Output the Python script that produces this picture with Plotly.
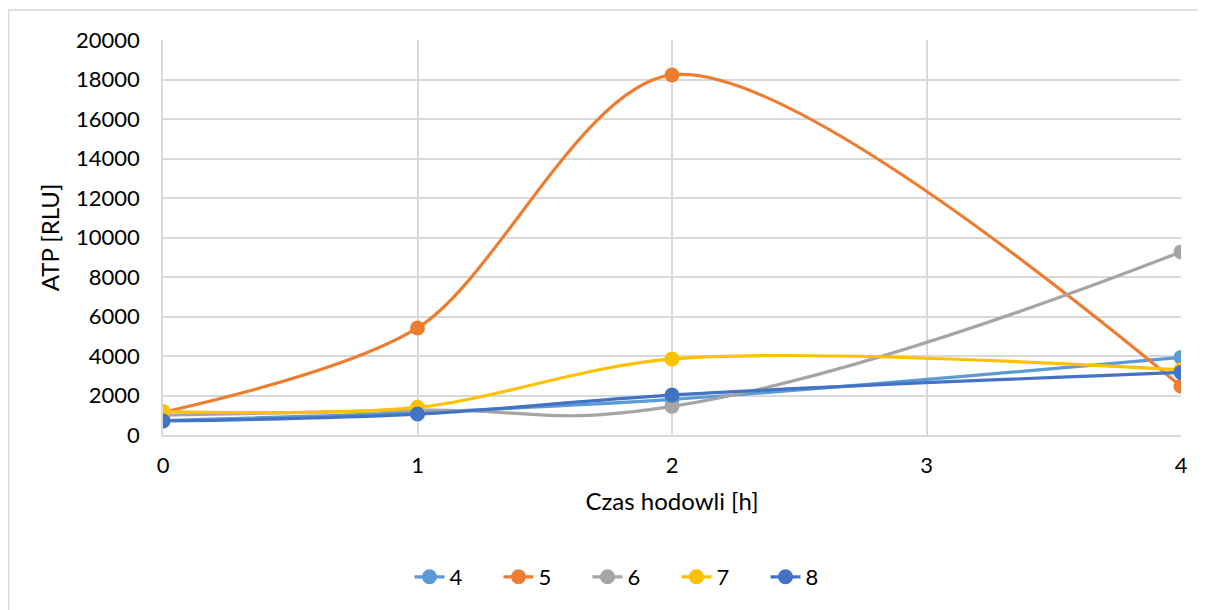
import plotly.graph_objects as go

x_hours = [0, 1, 2, 4]
series_names = ["4", "5", "6", "7", "8"]
s4 = [730, 1150, 1800, 3930]
s5 = [1150, 5420, 18230, 2470]
s6 = [1000, 1260, 1450, 9270]
s7 = [1190, 1400, 3850, 3300]
s8 = [710, 1060, 2020, 3170]
colors = ["#5B9BD5", "#ED7D31", "#A5A5A5", "#FFC000", "#4472C4"]
smooth = [1.0, 0.85, 1.3, 0.9, 1.0]
y_ticks = list(range(0, 20001, 2000))
x_ticks = [0, 1, 2, 3, 4]

FONT = "Lato, Carlito, 'Liberation Sans', sans-serif"

fig = go.Figure()
for name, vals, col, sm in zip(series_names, [s4, s5, s6, s7, s8], colors, smooth):
    fig.add_trace(go.Scatter(
        x=x_hours, y=vals, name=name, mode="lines+markers",
        line=dict(color=col, width=3.2, shape="spline", smoothing=sm),
        marker=dict(color=col, size=15),
    ))

# page has an 8px body margin; work in figure coordinates (page - 8)
OFF = 8
W, H = 1206 - OFF, 610 - OFF
L, R, T, B = 163 - OFF, 1181 - OFF, 40 - OFF, 435 - OFF
pw, ph = R - L, B - T

def px(xp):
    return (xp - OFF - L) / pw

def py(yp):
    return (B - (yp - OFF)) / ph

fig.update_layout(
    width=W, height=H,
    margin=dict(l=L, r=W - R, t=T, b=H - B),
    paper_bgcolor="white", plot_bgcolor="white",
    font=dict(family=FONT, size=22, color="#000000"),
    showlegend=True,
    legend=dict(orientation="h", x=px(632), xanchor="center", y=py(577), yanchor="middle",
                font=dict(size=22), entrywidth=44, entrywidthmode="pixels", traceorder="normal"),
    xaxis=dict(range=[0, 4], tickvals=x_ticks, showgrid=True, gridcolor="#D9D9D9", gridwidth=1.5,
               zeroline=False, showline=True, linecolor="#D9D9D9", linewidth=1.5,
               ticks="", ticklabelstandoff=10, tickfont=dict(size=22),
               title=dict(text="Czas hodowli [h]", font=dict(size=24), standoff=16)),
    yaxis=dict(range=[0, 20000], tickvals=y_ticks, tickformat="d", showgrid=True,
               gridcolor="#D9D9D9", gridwidth=1.5,
               zeroline=False, showline=True, linecolor="#D9D9D9", linewidth=1.5,
               ticks="", ticklabelstandoff=17, tickfont=dict(size=22),
               title=dict(text="ATP [RLU]", font=dict(size=24), standoff=10)),
    shapes=[dict(type="rect", xref="paper", yref="paper",
                 x0=px(8.5), x1=px(1230), y0=py(10), y1=py(640),
                 line=dict(color="#D9D9D9", width=1.5), fillcolor="rgba(0,0,0,0)", layer="below")],
)

fig.write_html("out.html")
